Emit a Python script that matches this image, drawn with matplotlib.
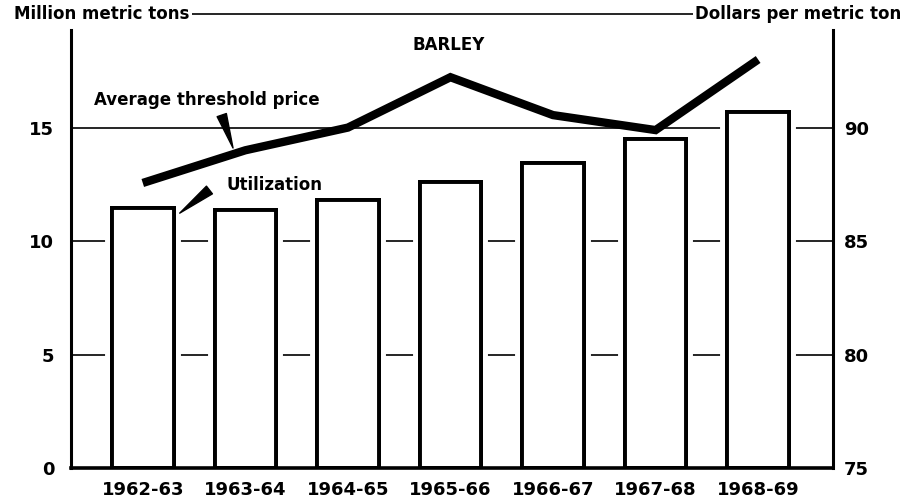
import matplotlib
matplotlib.use("Agg")
import matplotlib.pyplot as plt
import matplotlib.patheffects as pe
import numpy as np

plt.rcParams['font.family'] = ['DejaVu Sans']
plt.rcParams['font.weight'] = 'bold'

years = ["1962-63", "1963-64", "1964-65", "1965-66", "1966-67", "1967-68", "1968-69"]
utilization = [11.47, 11.37, 11.81, 12.61, 13.42, 14.48, 15.70]
threshold_price = [87.56, 89.0, 90.0, 92.22, 90.55, 89.89, 93.0]
left_ticks = [0, 5, 10, 15]
right_ticks = [75, 80, 85, 90]

x = np.arange(len(years))

fig = plt.figure(figsize=(9.1, 5.04), dpi=100)
ax = fig.add_axes([0.078, 0.0714, 0.8374, 0.9006])

for g in [5, 10, 15]:
    ax.axhline(g, color='black', lw=1.2, zorder=1)

# white halo around the bars breaks the grid lines like in the print
bars = ax.bar(x, utilization, width=0.6, color='white', edgecolor='black', linewidth=2.8, zorder=2)
for b in bars:
    b.set_path_effects([pe.withStroke(linewidth=10, foreground='white'), pe.Normal()])

ax.set_xlim(-0.70, 6.73)
ax.set_ylim(0, 20)
ax.set_yticks(left_ticks)
ax.set_xticks(x)
ax.set_xticklabels(years)
ax.tick_params(axis='both', length=0, labelsize=13)
ax.tick_params(axis='y', pad=12)
ax.tick_params(axis='x', pad=9)

ax.spines['left'].set_linewidth(2.2)
ax.spines['left'].set_bounds(0, 19.3)
ax.spines['right'].set_linewidth(2.2)
ax.spines['right'].set_bounds(0, 19.3)
ax.spines['bottom'].set_linewidth(2.6)
ax.spines['top'].set_linewidth(1.2)

ax2 = ax.twinx()
ax2.plot(x, threshold_price, color='black', lw=6, solid_capstyle='butt', solid_joinstyle='miter')
ax2.set_ylim(75, 95)
ax2.set_yticks(right_ticks)
ax2.tick_params(axis='y', length=0, labelsize=13, pad=8)
for s in ax2.spines.values():
    s.set_visible(False)

box = dict(facecolor='white', edgecolor='none', pad=2)
ax.text(-0.075, 1.0, "Million metric tons", transform=ax.transAxes, ha='left', va='center',
        fontsize=12, bbox=box, zorder=5)
ax.text(1.09, 1.0, "Dollars per metric ton", transform=ax.transAxes, ha='right', va='center',
        fontsize=12, bbox=box, zorder=5)
ax.text(2.98, 18.63, "BARLEY", ha='center', va='center', fontsize=12)
ax.text(0.62, 16.2, "Average threshold price", ha='center', va='center', fontsize=12)
ax.text(1.28, 12.47, "Utilization", ha='center', va='center', fontsize=12)

ax.annotate('', xy=(0.88, 14.1), xytext=(0.77, 15.55),
            arrowprops=dict(arrowstyle='wedge,tail_width=0.35', color='black', mutation_scale=20,
                            shrinkA=0, shrinkB=0))
ax.annotate('', xy=(0.36, 11.23), xytext=(0.65, 12.25),
            arrowprops=dict(arrowstyle='wedge,tail_width=0.35', color='black', mutation_scale=20,
                            shrinkA=0, shrinkB=0))

fig.savefig("out.png", dpi=100)
